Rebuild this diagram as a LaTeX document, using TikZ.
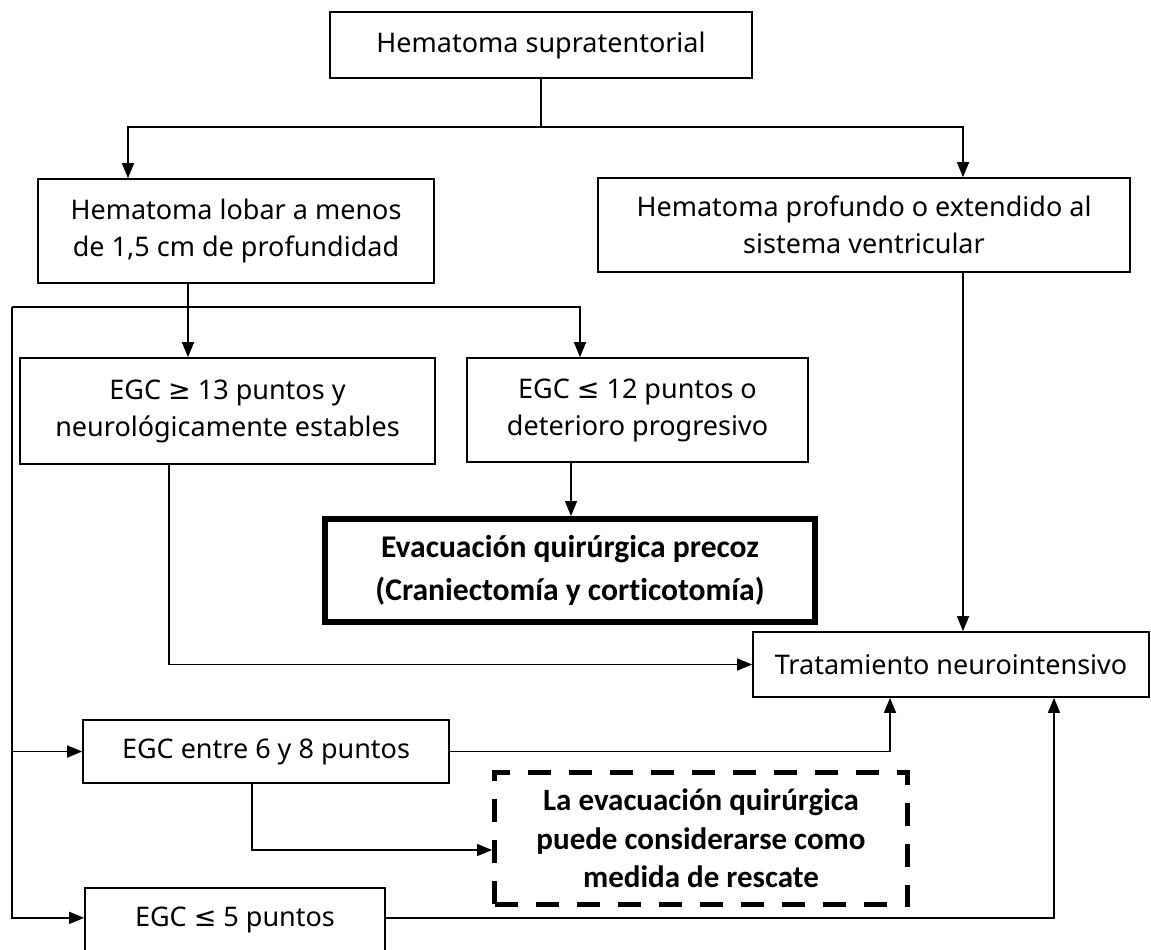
\documentclass[tikz,border=0pt]{standalone}
\usepackage{fontspec}
\setmainfont{Noto Sans}
\newfontfamily\calfont{Carlito}[Ligatures=NoCommon]
\newfontfamily\mathsym{DejaVu Sans}
\usetikzlibrary{arrows.meta}

\begin{document}
\begin{tikzpicture}[x=0.5pt, y=-0.5pt,
    box/.style={draw, line width=0.85pt, align=center, inner sep=0pt,
      font=\fontsize{13.5}{18.5}\selectfont},
    keybox/.style={box, line width=3pt,
      font=\calfont\bfseries\fontsize{15.8}{21.5}\selectfont},
    rescuebox/.style={box, line width=2.5pt, dash pattern=on 11.5pt off 9pt,
      font=\calfont\bfseries\fontsize{15.5}{19.25}\selectfont},
    link/.style={line width=0.75pt},
    arr/.style={link, -{Triangle[length=7.5pt, width=6pt]}}]

    \useasboundingbox (0,0) rectangle (1151,949);
    \clip (0,0) rectangle (1151,949);

    \node[box, minimum width=211pt, minimum height=33pt] (top) at (541,45) {Hematoma supratentorial};
    \node[box, minimum width=198pt, minimum height=52pt] (lobar) at (236,231) {Hematoma lobar a menos\\de 1,5 cm de profundidad};
    \node[box, minimum width=266pt, minimum height=47pt] (prof) at (864,225) {Hematoma profundo o extendido al\\sistema ventricular};
    \node[box, minimum width=207.5pt, minimum height=53pt] (estab) at (227.5,411) {EGC {\mathsym ≥} 13 puntos y\\neurológicamente estables};
    \node[box, minimum width=170.5pt, minimum height=52pt] (deter) at (637.5,410) {EGC {\mathsym ≤} 12 puntos o\\deterioro progresivo};
    \node[keybox, minimum width=245pt, minimum height=51.5pt] (evac) at (570,570.5) {Evacuación quirúrgica precoz\\(Craniectomía y corticotomía)};
    \node[box, minimum width=198pt, minimum height=32.5pt] (trat) at (951,664.5) {Tratamiento neurointensivo};
    \node[box, minimum width=183pt, minimum height=31.5pt] (entre) at (266,751.5) {EGC entre 6 y 8 puntos};
    \node[rescuebox, minimum width=206.5pt, minimum height=66pt] (rescate) at (701,838.5) {La evacuación quirúrgica\\puede considerarse como\\medida de rescate};
    \node[box, anchor=north, minimum width=150pt, text height=19.5pt, text depth=23pt] (cinco) at (235,887) {EGC {\mathsym ≤} 5 puntos};

    % first split
    \coordinate (fork) at (541,127);
    \draw[link] (top) -- (fork);
    \draw[arr] (fork) -| (128,0 |- lobar.north);
    \draw[arr] (fork) -| (963,0 |- prof.north);

    % lobar branch
    \coordinate (rail) at (12,307);
    \draw[arr] (188,0 |- lobar.south) -- (188,0 |- estab.north);
    \draw[arr] (rail) -| (580,0 |- deter.north);
    \draw[arr] (571,0 |- deter.south) -- (571,0 |- evac.north);
    \draw[arr] (rail) |- (entre.west);
    \draw[arr] (rail) |- ([yshift=6.25pt]cinco.west);

    % to neurointensive care
    \draw[arr] (169,0 |- estab.south) |- (trat.west);
    \draw[arr] (963,0 |- prof.south) -- (963,0 |- trat.north);
    \draw[arr] (entre.east) -| (890,0 |- trat.south);
    \draw[arr] ([yshift=6.25pt]cinco.east) -| (1054,0 |- trat.south);
    \draw[arr] (252,0 |- entre.south) |- ([yshift=-5.75pt]rescate.west);
\end{tikzpicture}
\end{document}
